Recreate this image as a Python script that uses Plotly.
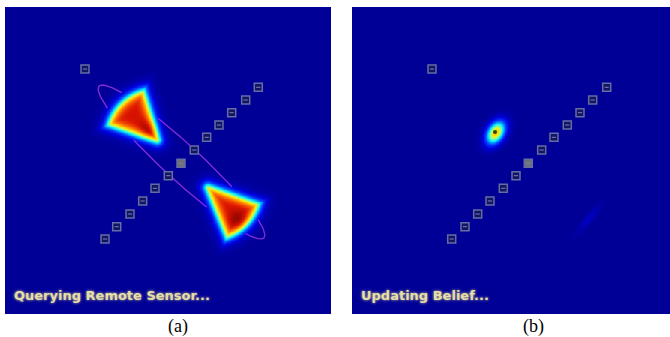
import numpy as np
import plotly.graph_objects as go

W, H = 670, 337

# ---- data (pixel coordinates) ----
# panel frames [x0, x1, y0, y1]
panel_a = [5, 331, 7, 314]
panel_b = [352, 670, 7, 314]

# landmark squares, panel (a)
sq_a_x = [105, 116.7, 130, 142.7, 155, 168.3, 181, 194.3, 206.7, 219, 231.7, 245.7, 258.3]
sq_a_y = [239, 226.7, 214, 201, 188.3, 175.7, 163.3, 150, 137.3, 125, 112.7, 100, 87.3]
lone_a = [85, 69]
# landmark squares, panel (b)
sq_b_x = [451.7, 465, 477.7, 490, 503.3, 516, 528.3, 541.7, 554, 567.3, 580, 592.7, 606.7]
sq_b_y = [239, 226.7, 214, 201, 188.3, 175.7, 163.3, 150, 137.3, 125, 112.7, 100, 87.3]
lone_b = [432, 69]
grey_index = 6

# belief lobes (fan shaped) in panel (a): tip x, tip y, axis angle (deg), half angle (deg), radius
lobe_tip_x = [161, 202]
lobe_tip_y = [144, 182]
lobe_axis = [226, 43.7]
lobe_half = [27, 24]
lobe_radius = [59, 62]
lobe_peak_x = [149, 238]
lobe_peak_y = [129, 220]

# uncertainty ellipse in panel (a): cx, cy, semi-major, semi-minor, angle
ell_a = [181.5, 162, 112, 18, 42.6]

# concentrated belief in panel (b): cx, cy, semi axes, angle, level
blob_b = [495, 132, 8.5, 5.5, -58, 0.6]
faint_b = [588, 218, 12, 2.5, -50, 0.05]

label_a = "Querying Remote Sensor..."
label_b = "Updating Belief..."
caption_a = "(a)"
caption_b = "(b)"

jet = [
    [0.0, "rgb(0,0,150)"], [0.08, "rgb(0,0,225)"], [0.18, "rgb(0,70,255)"],
    [0.32, "rgb(0,235,255)"], [0.44, "rgb(150,255,140)"], [0.54, "rgb(255,235,0)"],
    [0.68, "rgb(255,120,0)"], [0.82, "rgb(220,20,0)"], [1.0, "rgb(120,0,0)"],
]

ROUND = 3.0


def sector_dist(X, Y, tx, ty, axis, half, R):
    # rounded sector: shrink by ROUND then offset
    ax = np.radians(axis)
    sh = ROUND / np.sin(np.radians(half))
    tx2, ty2 = tx + sh * np.cos(ax), ty + sh * np.sin(ax)
    R2 = R - sh - ROUND
    dx, dy = X - tx2, Y - ty2
    r = np.hypot(dx, dy)
    ang = np.degrees(np.arctan2(dy, dx))
    dth = np.abs((ang - axis + 180) % 360 - 180)
    ex = np.radians(dth - half)
    d_ang = np.where(ex < np.pi / 2, r * np.sin(np.clip(ex, -np.pi / 2, np.pi / 2)), r)
    d = np.maximum(r - R2, d_ang)
    return d - ROUND


def sig(v):
    return 1.0 / (1.0 + np.exp(-v))


step = 1.5
xa = np.arange(panel_a[0], panel_a[1] + step, step)
ya = np.arange(panel_a[2], panel_a[3] + step, step)
XA, YA = np.meshgrid(xa, ya)
ZA = np.zeros_like(XA)
for i in range(len(lobe_tip_x)):
    d = sector_dist(XA, YA, lobe_tip_x[i], lobe_tip_y[i], lobe_axis[i], lobe_half[i], lobe_radius[i])
    inside = sig(-(d + 1.5) / 3.2)
    pk = np.exp(-((XA - lobe_peak_x[i]) ** 2 + (YA - lobe_peak_y[i]) ** 2) / (2 * 7.0 ** 2))
    ZA = np.maximum(ZA, inside * (0.84 + 0.14 * pk))

xb = np.arange(panel_b[0], panel_b[1] + step, step)
yb = np.arange(panel_b[2], panel_b[3] + step, step)
XB, YB = np.meshgrid(xb, yb)
ZB = np.zeros_like(XB)
for p in (blob_b, faint_b):
    cx, cy, a, b, th, lev = p
    t = np.radians(th)
    u = (XB - cx) * np.cos(t) + (YB - cy) * np.sin(t)
    v = -(XB - cx) * np.sin(t) + (YB - cy) * np.cos(t)
    ZB = np.maximum(ZB, lev * np.exp(-0.5 * ((u / a) ** 2 + (v / b) ** 2)))

fig = go.Figure()
fig.add_trace(go.Heatmap(x=xa, y=ya, z=ZA, colorscale=jet, zmin=0, zmax=1, showscale=False,
                         zsmooth="best", hoverinfo="skip", xaxis="x", yaxis="y"))
fig.add_trace(go.Heatmap(x=xb, y=yb, z=ZB, colorscale=jet, zmin=0, zmax=1, showscale=False,
                         zsmooth="best", hoverinfo="skip", xaxis="x2", yaxis="y2"))

# ellipse (hidden where it passes under the lobes)
cx, cy, a, b, th = ell_a
t = np.linspace(0, 2 * np.pi, 400)
ang = np.radians(th)
ex = cx + a * np.cos(t) * np.cos(ang) - b * np.sin(t) * np.sin(ang)
ey = cy + a * np.cos(t) * np.sin(ang) + b * np.sin(t) * np.cos(ang)
ez = np.zeros_like(ex)
for i in range(len(lobe_tip_x)):
    d = sector_dist(ex, ey, lobe_tip_x[i], lobe_tip_y[i], lobe_axis[i], lobe_half[i], lobe_radius[i])
    ez = np.maximum(ez, sig(-(d + 1.5) / 3.2))
ex_l = [float(x) if z < 0.12 else None for x, z in zip(ex, ez)]
ey_l = [float(y) if z < 0.12 else None for y, z in zip(ey, ez)]
fig.add_trace(go.Scatter(x=ex_l, y=ey_l, mode="lines", line=dict(color="rgb(135,45,215)", width=1.3),
                         hoverinfo="skip", xaxis="x", yaxis="y"))


def squares(xs, ys, lone, xa_, ya_):
    fills = ["rgb(20,20,100)"] * len(xs)
    fills[grey_index] = "rgb(110,112,115)"
    fig.add_trace(go.Scatter(x=xs + [lone[0]], y=ys + [lone[1]], mode="markers",
                             marker=dict(symbol="square", size=8, color=fills + ["rgb(20,20,100)"],
                                         line=dict(color="rgb(100,110,165)", width=1.5)),
                             hoverinfo="skip", xaxis=xa_, yaxis=ya_))
    fig.add_trace(go.Scatter(x=xs + [lone[0]], y=ys + [lone[1]], mode="markers",
                             marker=dict(symbol="line-ew", size=3,
                                         line=dict(color="rgb(120,130,175)", width=1)),
                             hoverinfo="skip", xaxis=xa_, yaxis=ya_))


squares(sq_a_x, sq_a_y, lone_a, "x", "y")
squares(sq_b_x, sq_b_y, lone_b, "x2", "y2")

# dark centre of concentrated belief in (b)
fig.add_trace(go.Scatter(x=[blob_b[0]], y=[blob_b[1]], mode="markers",
                         marker=dict(symbol="circle", size=4, color="rgb(40,70,25)"),
                         hoverinfo="skip", xaxis="x2", yaxis="y2"))

label_font = dict(family="DejaVu Sans", size=13, color="rgb(228,222,168)",
                  weight="bold", shadow="0px 0px 3px rgb(215,205,140)")
fig.add_annotation(x=12, y=295, xref="x", yref="y", text=label_a, showarrow=False,
                   xanchor="left", yanchor="middle", font=label_font)
fig.add_annotation(x=359, y=295, xref="x2", yref="y2", text=label_b, showarrow=False,
                   xanchor="left", yanchor="middle", font=label_font)

cap_font = dict(family="Liberation Serif, DejaVu Serif, serif", size=18, color="black")
fig.add_annotation(x=178 / W, y=1 - 326 / H, xref="paper", yref="paper", text=caption_a,
                   showarrow=False, xanchor="center", yanchor="middle", font=cap_font)
fig.add_annotation(x=533 / W, y=1 - 326 / H, xref="paper", yref="paper", text=caption_b,
                   showarrow=False, xanchor="center", yanchor="middle", font=cap_font)

ax_common = dict(visible=False, showgrid=False, zeroline=False, fixedrange=True)
fig.update_layout(
    width=W, height=H, margin=dict(l=0, r=0, t=0, b=0),
    paper_bgcolor="white", plot_bgcolor="rgb(0,0,150)", showlegend=False,
    xaxis=dict(domain=[panel_a[0] / W, panel_a[1] / W], range=[panel_a[0], panel_a[1]], **ax_common),
    yaxis=dict(domain=[1 - panel_a[3] / H, 1 - panel_a[2] / H], range=[panel_a[3], panel_a[2]], **ax_common),
    xaxis2=dict(domain=[panel_b[0] / W, panel_b[1] / W], range=[panel_b[0], panel_b[1]], **ax_common),
    yaxis2=dict(domain=[1 - panel_b[3] / H, 1 - panel_b[2] / H], range=[panel_b[3], panel_b[2]], **ax_common),
)

fig.write_html("out.html", config={"displayModeBar": False},
               post_script="document.body.style.margin='0';document.body.style.overflow='hidden';")
